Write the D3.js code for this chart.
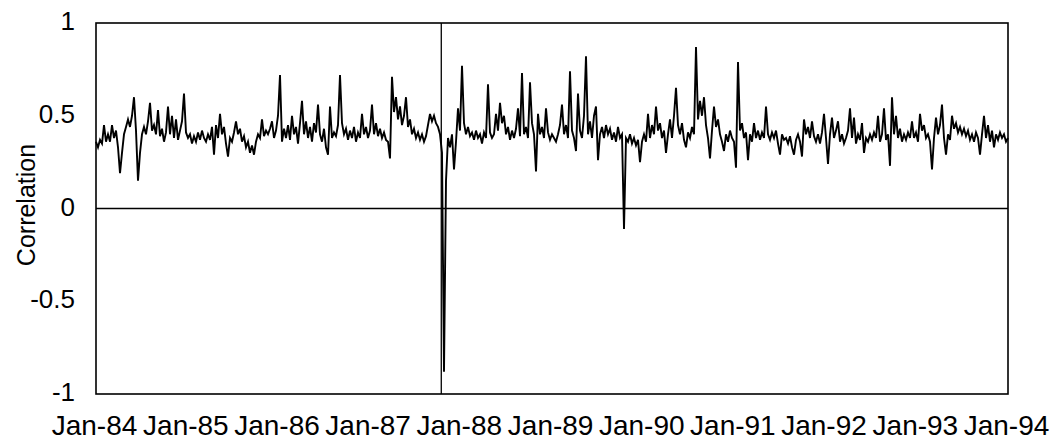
<!DOCTYPE html>
<html>
<head>
<meta charset="utf-8">
<script src="https://cdn.jsdelivr.net/npm/d3@7"></script>
<style>
  html, body { margin: 0; padding: 0; background: #fff; }
  svg { display: block; }
  text { font-family: "Liberation Sans", Arial, sans-serif; fill: #000; }
</style>
</head>
<body>
<svg id="chart" width="1060" height="443"></svg>
<script>
// ---- Data ----
const startDate = new Date(1984, 0, 1);
const endDate = new Date(1994, 0, 1);
const crashDate = new Date(1987, 9, 15);

const correlation = [
  0.36,0.33,0.37,0.35,0.45,0.36,0.40,0.36,0.45,0.38,
  0.42,0.33,0.19,0.30,0.40,0.44,0.48,0.44,0.50,0.60,
  0.42,0.15,0.30,0.40,0.44,0.40,0.47,0.57,0.42,0.45,
  0.40,0.53,0.39,0.43,0.36,0.41,0.55,0.40,0.50,0.38,
  0.48,0.37,0.42,0.47,0.62,0.41,0.38,0.40,0.35,0.39,
  0.36,0.41,0.37,0.42,0.38,0.36,0.40,0.37,0.44,0.29,
  0.45,0.38,0.51,0.40,0.44,0.35,0.28,0.38,0.36,0.41,
  0.47,0.40,0.43,0.36,0.39,0.33,0.36,0.30,0.34,0.29,
  0.36,0.40,0.38,0.48,0.39,0.42,0.40,0.43,0.47,0.38,
  0.42,0.50,0.72,0.36,0.43,0.38,0.45,0.37,0.50,0.40,
  0.44,0.35,0.46,0.58,0.40,0.47,0.38,0.44,0.36,0.46,
  0.41,0.56,0.40,0.36,0.43,0.33,0.29,0.55,0.38,0.41,
  0.39,0.45,0.72,0.46,0.40,0.43,0.37,0.42,0.38,0.44,
  0.36,0.41,0.38,0.51,0.40,0.44,0.38,0.42,0.56,0.40,
  0.46,0.39,0.43,0.38,0.41,0.37,0.36,0.27,0.71,0.52,
  0.60,0.48,0.55,0.45,0.50,0.60,0.44,0.48,0.40,0.43,
  0.38,0.41,0.37,0.40,0.36,0.39,0.45,0.51,0.47,0.50,
  0.46,0.44,0.40,0.30,-0.88,0.15,0.38,0.33,0.40,0.21,
  0.36,0.54,0.42,0.77,0.46,0.40,0.44,0.39,0.41,0.37,
  0.42,0.38,0.40,0.35,0.41,0.38,0.67,0.41,0.38,0.40,
  0.51,0.42,0.57,0.46,0.50,0.40,0.44,0.37,0.42,0.38,
  0.43,0.54,0.39,0.73,0.40,0.44,0.38,0.68,0.46,0.40,
  0.20,0.51,0.40,0.44,0.38,0.54,0.41,0.37,0.40,0.38,
  0.36,0.40,0.45,0.56,0.40,0.45,0.38,0.74,0.42,0.38,
  0.31,0.62,0.42,0.38,0.50,0.82,0.40,0.47,0.38,0.50,
  0.55,0.26,0.40,0.44,0.38,0.45,0.40,0.43,0.37,0.41,
  0.36,0.44,0.38,0.40,-0.11,0.38,0.36,0.40,0.35,0.38,
  0.34,0.37,0.25,0.36,0.40,0.36,0.51,0.38,0.45,0.40,
  0.55,0.42,0.46,0.38,0.42,0.30,0.40,0.48,0.38,0.50,
  0.65,0.45,0.40,0.46,0.37,0.33,0.41,0.38,0.44,0.40,
  0.87,0.48,0.58,0.50,0.60,0.45,0.38,0.27,0.42,0.55,
  0.44,0.48,0.40,0.36,0.31,0.40,0.36,0.42,0.38,0.36,
  0.22,0.79,0.42,0.46,0.38,0.41,0.26,0.40,0.36,0.46,
  0.38,0.42,0.37,0.41,0.38,0.55,0.40,0.37,0.41,0.38,
  0.42,0.35,0.29,0.40,0.37,0.38,0.35,0.39,0.33,0.29,
  0.37,0.40,0.36,0.28,0.48,0.40,0.44,0.38,0.47,0.39,
  0.36,0.40,0.35,0.41,0.51,0.38,0.24,0.40,0.49,0.38,
  0.42,0.47,0.36,0.40,0.35,0.38,0.42,0.54,0.38,0.49,
  0.35,0.40,0.37,0.46,0.30,0.38,0.36,0.40,0.37,0.41,
  0.38,0.50,0.36,0.40,0.54,0.37,0.40,0.23,0.60,0.40,
  0.50,0.38,0.43,0.36,0.40,0.37,0.41,0.38,0.47,0.38,
  0.41,0.36,0.51,0.42,0.45,0.38,0.40,0.36,0.21,0.38,
  0.49,0.40,0.45,0.56,0.38,0.29,0.40,0.37,0.50,0.43,
  0.46,0.41,0.44,0.40,0.43,0.39,0.42,0.37,0.40,0.36,
  0.41,0.38,0.29,0.40,0.50,0.38,0.45,0.36,0.42,0.33,
  0.40,0.37,0.41,0.38,0.40,0.36,0.38
];

const xTickLabels = ["Jan-84","Jan-85","Jan-86","Jan-87","Jan-88","Jan-89","Jan-90","Jan-91","Jan-92","Jan-93","Jan-94"];
const yTickValues = [-1, -0.5, 0, 0.5, 1];
const yTickLabels = ["-1", "-0.5", "0", "0.5", "1"];

// ---- Layout ----
const svg = d3.select("#chart");
const plot = { left: 96, right: 1008, top: 23, bottom: 394 };

const x = d3.scaleTime().domain([startDate, endDate]).range([plot.left, plot.right]);
const y = d3.scaleLinear().domain([-1, 1]).range([plot.bottom, plot.top]);

const n = correlation.length;
const span = endDate - startDate;
const series = correlation.map((v, i) => ({
  date: new Date(startDate.getTime() + span * i / (n - 1)),
  value: v
}));

// frame
svg.append("rect")
  .attr("x", plot.left).attr("y", plot.top)
  .attr("width", plot.right - plot.left).attr("height", plot.bottom - plot.top)
  .attr("fill", "none").attr("stroke", "#000").attr("stroke-width", 1.6);

// zero line
svg.append("line")
  .attr("x1", plot.left).attr("x2", plot.right)
  .attr("y1", y(0)).attr("y2", y(0))
  .attr("stroke", "#000").attr("stroke-width", 1.3);

// vertical line at crash
svg.append("line")
  .attr("x1", x(crashDate)).attr("x2", x(crashDate))
  .attr("y1", plot.top).attr("y2", plot.bottom)
  .attr("stroke", "#000").attr("stroke-width", 1.3);

// data line
const line = d3.line().x(d => x(d.date)).y(d => y(d.value));
svg.append("path")
  .datum(series)
  .attr("d", line)
  .attr("fill", "none")
  .attr("stroke", "#000")
  .attr("stroke-width", 1.9)
  .attr("stroke-linejoin", "miter");

// y axis labels
const yAxis = d3.axisLeft(y)
  .tickValues(yTickValues)
  .tickSize(0)
  .tickPadding(21)
  .tickFormat((d, i) => yTickLabels[i]);
const gy = svg.append("g").attr("transform", `translate(${plot.left},0)`).call(yAxis);
gy.select(".domain").remove();
gy.selectAll("text")
  .style("font-family", '"Liberation Sans", Arial, sans-serif')
  .style("font-size", "26px")
  .attr("fill", "#000")
  .attr("dy", "0.25em");

// x axis labels
const xTicks = d3.range(0, xTickLabels.length).map(k => new Date(1984 + k, 0, 1));
const xAxis = d3.axisBottom(x)
  .tickValues(xTicks)
  .tickSize(0)
  .tickPadding(21)
  .tickFormat((d, i) => xTickLabels[i]);
const gx = svg.append("g").attr("transform", `translate(0,${plot.bottom})`).call(xAxis);
gx.select(".domain").remove();
gx.selectAll("text")
  .style("font-family", '"Liberation Sans", Arial, sans-serif')
  .style("font-size", "28px")
  .attr("fill", "#000")
  .attr("dx", "-2");

// y title
svg.append("text")
  .attr("transform", `translate(35,205) rotate(-90)`)
  .attr("text-anchor", "middle")
  .style("font-size", "25px")
  .text("Correlation");
</script>
</body>
</html>
